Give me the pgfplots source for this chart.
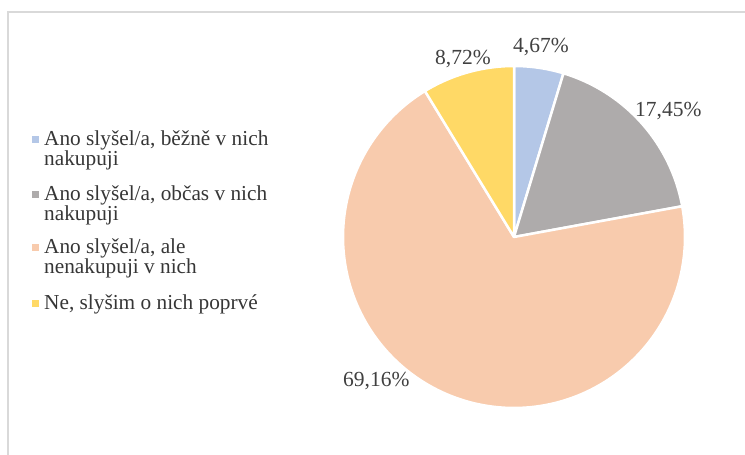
\documentclass[border=0pt]{standalone}
\usepackage{pgfplots}
\usepackage{pgfplotstable}
\pgfplotsset{compat=1.18}
\usepackage{fontspec}
\setmainfont{Liberation Serif}
\definecolor{cblue}{HTML}{B4C7E7}
\definecolor{cgray}{HTML}{AEABAB}
\definecolor{cpeach}{HTML}{F8CBAD}
\definecolor{cyellow}{HTML}{FFD966}
\definecolor{ctext}{HTML}{404040}
\definecolor{cborder}{HTML}{D9D9D9}

\pgfplotstableread{
idx value
0 4.67
1 17.45
2 69.16
3 8.72
}\piedata

\begin{document}
\begin{tikzpicture}
\pgfplotstablegetelem{0}{value}\of\piedata\pgfmathsetmacro\va{\pgfplotsretval}
\pgfplotstablegetelem{1}{value}\of\piedata\pgfmathsetmacro\vb{\pgfplotsretval}
\pgfplotstablegetelem{2}{value}\of\piedata\pgfmathsetmacro\vc{\pgfplotsretval}
\pgfplotstablegetelem{3}{value}\of\piedata\pgfmathsetmacro\vd{\pgfplotsretval}
\pgfmathsetmacro\aA{90}
\pgfmathsetmacro\aB{\aA-3.6*\va}
\pgfmathsetmacro\aC{\aB-3.6*\vb}
\pgfmathsetmacro\aD{\aC-3.6*\vc}
\pgfmathsetmacro\aE{\aD-3.6*\vd}
\begin{axis}[
  hide axis, scale only axis,
  width=745pt, height=455pt,
  xmin=0, xmax=745, ymin=0, ymax=455,
  clip=false,
]
% border
\addplot[draw=cborder, line width=1.5pt] coordinates {(8,0) (8,443) (745,443)};
% pie slices
\addplot[fill=cblue, draw=white, line width=2.5pt, line join=round, domain=\aB:\aA, samples=40]
  ({514+171*cos(x)},{218+171*sin(x)}) -- (514,218) -- cycle;
\addplot[fill=cgray, draw=white, line width=2.5pt, line join=round, domain=\aC:\aB, samples=60]
  ({514+171*cos(x)},{218+171*sin(x)}) -- (514,218) -- cycle;
\addplot[fill=cpeach, draw=white, line width=2.5pt, line join=round, domain=\aD:\aC, samples=150]
  ({514+171*cos(x)},{218+171*sin(x)}) -- (514,218) -- cycle;
\addplot[fill=cyellow, draw=white, line width=2.5pt, line join=round, domain=\aE:\aD, samples=40]
  ({514+171*cos(x)},{218+171*sin(x)}) -- (514,218) -- cycle;
% data labels
\begin{scope}[every node/.style={anchor=base west, inner sep=0pt, text=ctext, font=\fontsize{21.5}{24}\selectfont}]
\node at (axis cs:513,402) {4,67\%};
\node at (axis cs:435,390) {8,72\%};
\node at (axis cs:635,338) {17,45\%};
\node at (axis cs:343,68) {69,16\%};
\end{scope}
% legend markers
\addplot[only marks, mark=square*, mark size=3pt, mark options={draw=cblue, fill=cblue}] coordinates {(35,316)};
\addplot[only marks, mark=square*, mark size=3pt, mark options={draw=cgray, fill=cgray}] coordinates {(35,261)};
\addplot[only marks, mark=square*, mark size=3pt, mark options={draw=cpeach, fill=cpeach}] coordinates {(35,208)};
\addplot[only marks, mark=square*, mark size=3pt, mark options={draw=cyellow, fill=cyellow}] coordinates {(35,152)};
% legend text
\begin{scope}[every node/.style={anchor=base west, inner sep=0pt, text=ctext!85!black, font=\fontsize{21.3}{24}\selectfont}]
\node at (axis cs:44,309) {Ano slyšel/a, běžně v nich};
\node at (axis cs:44,289) {nakupuji};
\node at (axis cs:44,254) {Ano slyšel/a, občas v nich};
\node at (axis cs:44,234) {nakupuji};
\node at (axis cs:44,201) {Ano slyšel/a, ale};
\node at (axis cs:44,181) {nenakupuji v nich};
\node at (axis cs:44,145) {Ne, slyšim o nich poprvé};
\end{scope}
\end{axis}
\pgfresetboundingbox
\useasboundingbox (0,0) rectangle (745pt,455pt);
\end{tikzpicture}
\end{document}
